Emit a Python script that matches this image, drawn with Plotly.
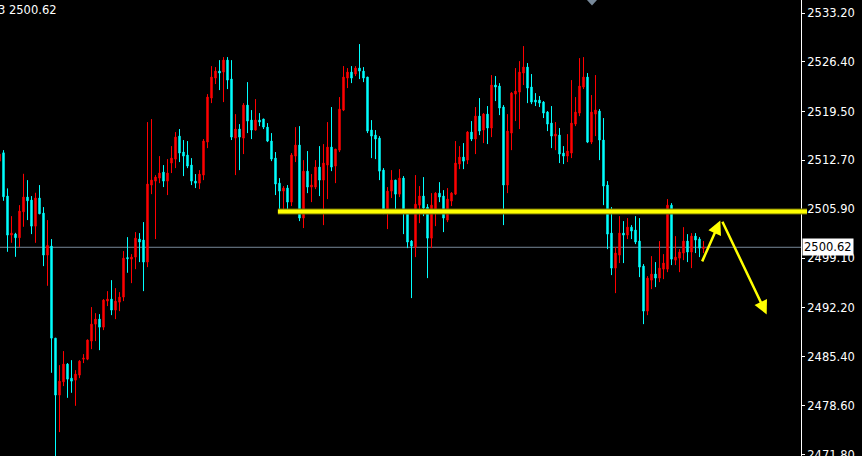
import plotly.graph_objects as go

# candle index (x) and OHLC prices
idx = list(range(-1, 176))

opens = [2512.60, 2513.76, 2507.74, 2502.31, 2502.45, 2501.94, 2505.55, 2507.60, 2507.18, 2503.56,
         2507.46, 2505.37, 2499.53, 2500.78, 2487.98, 2480.06, 2481.90, 2484.37, 2482.42, 2482.14,
         2482.84, 2485.06, 2485.06, 2487.57, 2489.93, 2490.63, 2489.51, 2493.13, 2493.41, 2491.88,
         2492.99, 2493.69, 2499.18, 2498.97, 2499.25, 2501.76, 2501.62, 2498.56, 2509.27, 2509.82,
         2510.24, 2511.07, 2509.82, 2512.33, 2512.88, 2516.08, 2513.86, 2513.44, 2512.05, 2509.82,
         2509.54, 2510.66, 2515.25, 2521.37, 2524.15, 2525.12, 2524.98, 2526.65, 2524.01, 2515.80,
         2517.06, 2515.80, 2520.39, 2518.31, 2516.92, 2518.31, 2518.45, 2517.33, 2515.39, 2513.02,
         2509.54, 2508.43, 2508.85, 2506.90, 2513.30, 2514.83, 2504.68, 2511.21, 2508.99, 2508.99,
         2511.77, 2509.96, 2512.05, 2514.55, 2511.91, 2514.13, 2519.70, 2524.15, 2524.98, 2524.71,
         2525.54, 2525.12, 2524.29, 2516.92, 2516.22, 2515.80, 2511.35, 2505.79, 2508.43, 2509.96,
         2508.01, 2510.24, 2505.51, 2501.48, 2500.64, 2506.48, 2507.74, 2506.21, 2501.89, 2505.51,
         2508.15, 2507.74, 2504.40, 2507.04, 2508.01, 2512.19, 2513.16, 2512.74, 2516.64, 2515.67,
         2518.86, 2516.92, 2519.14, 2517.20, 2523.18, 2523.04, 2520.12, 2509.27, 2516.50, 2521.92,
         2522.20, 2524.85, 2525.68, 2522.90, 2521.09, 2521.09, 2520.81, 2519.42, 2517.89, 2516.08,
         2516.22, 2513.72, 2513.30, 2513.72, 2517.75, 2519.28, 2522.90, 2524.29, 2515.25, 2519.14,
         2519.56, 2515.53, 2509.27, 2502.59, 2497.72, 2499.53, 2502.59, 2502.31, 2503.42, 2503.01,
         2501.48, 2498.00, 2491.74, 2496.05, 2496.89, 2496.33, 2497.58, 2497.58, 2506.48, 2498.83,
         2499.11, 2499.81, 2501.48, 2499.95, 2502.17, 2501.76, 2500.45]

highs = [2513.86, 2514.13, 2508.81, 2504.95, 2502.63, 2506.48, 2510.84, 2509.96, 2507.74, 2508.20,
         2509.27, 2506.21, 2504.40, 2501.76, 2488.00, 2484.23, 2486.18, 2484.51, 2484.92, 2483.53,
         2484.92, 2485.76, 2487.80, 2492.30, 2491.46, 2491.32, 2493.41, 2494.52, 2496.05, 2494.94,
         2494.38, 2500.09, 2502.03, 2499.67, 2502.73, 2502.59, 2504.12, 2518.03, 2518.45, 2510.66,
         2513.30, 2512.05, 2512.88, 2514.69, 2516.64, 2517.06, 2515.53, 2515.39, 2513.02, 2510.80,
         2511.35, 2515.67, 2521.92, 2525.82, 2525.68, 2526.65, 2527.07, 2527.07, 2526.65, 2519.14,
         2517.75, 2520.67, 2523.59, 2519.70, 2521.23, 2519.28, 2518.50, 2517.89, 2516.50, 2513.86,
         2510.24, 2509.13, 2509.27, 2513.72, 2517.33, 2517.47, 2512.74, 2514.00, 2510.80, 2512.74,
         2514.69, 2514.97, 2518.03, 2520.12, 2514.30, 2521.51, 2525.82, 2525.54, 2525.82, 2525.82,
         2528.88, 2525.68, 2524.32, 2518.31, 2516.92, 2516.08, 2511.63, 2508.99, 2511.35, 2510.00,
         2511.49, 2510.52, 2505.79, 2501.62, 2510.66, 2509.13, 2510.38, 2506.62, 2508.15, 2508.29,
         2509.68, 2508.57, 2508.85, 2508.29, 2515.39, 2514.69, 2515.11, 2516.78, 2518.17, 2520.12,
         2521.37, 2519.28, 2520.26, 2524.57, 2524.43, 2523.45, 2520.39, 2519.14, 2522.20, 2525.54,
         2526.51, 2528.60, 2526.24, 2524.71, 2522.06, 2521.65, 2520.95, 2519.56, 2520.26, 2518.03,
         2517.20, 2514.69, 2516.36, 2523.87, 2521.51, 2526.93, 2527.07, 2524.85, 2521.79, 2524.57,
         2519.84, 2518.59, 2509.82, 2506.21, 2500.64, 2504.95, 2504.26, 2504.68, 2503.70, 2504.95,
         2504.68, 2498.28, 2496.61, 2499.39, 2498.56, 2501.48, 2499.67, 2507.32, 2506.76, 2502.17,
         2500.36, 2503.42, 2502.45, 2502.59, 2502.59, 2502.03, 2501.48]

lows = [2512.33, 2507.08, 2499.99, 2501.24, 2499.29, 2500.64, 2503.47, 2504.40, 2502.45, 2501.24,
        2505.23, 2498.00, 2495.26, 2483.16, 2471.29, 2474.91, 2481.31, 2479.68, 2480.38, 2478.57,
        2482.42, 2484.51, 2484.92, 2486.45, 2487.57, 2486.31, 2489.10, 2492.44, 2491.18, 2490.63,
        2491.74, 2493.13, 2497.07, 2495.63, 2497.58, 2498.56, 2494.52, 2497.86, 2508.01, 2501.76,
        2509.54, 2508.99, 2507.88, 2510.94, 2511.63, 2512.47, 2510.52, 2511.63, 2509.27, 2508.85,
        2508.71, 2509.96, 2514.41, 2520.67, 2523.32, 2522.48, 2520.81, 2522.62, 2515.53, 2510.66,
        2511.35, 2513.58, 2516.50, 2515.67, 2516.85, 2517.47, 2517.06, 2515.25, 2512.60, 2507.88,
        2505.65, 2505.79, 2505.93, 2506.35, 2512.47, 2504.26, 2503.29, 2508.15, 2506.90, 2508.71,
        2507.74, 2503.70, 2507.32, 2511.21, 2509.54, 2513.86, 2519.56, 2522.76, 2523.45, 2524.43,
        2524.01, 2523.59, 2516.50, 2513.02, 2512.88, 2509.96, 2505.23, 2503.15, 2507.46, 2505.79,
        2507.60, 2502.45, 2500.50, 2493.55, 2499.25, 2503.98, 2504.95, 2496.33, 2500.50, 2503.56,
        2506.90, 2502.73, 2504.12, 2506.35, 2507.88, 2511.49, 2511.49, 2512.19, 2515.39, 2513.58,
        2516.22, 2515.11, 2514.97, 2515.94, 2520.95, 2519.00, 2503.70, 2508.15, 2514.13, 2518.17,
        2517.06, 2523.18, 2520.67, 2520.53, 2520.26, 2520.12, 2518.59, 2516.78, 2514.41, 2514.13,
        2512.33, 2512.19, 2512.47, 2513.02, 2517.47, 2518.86, 2522.62, 2515.11, 2514.97, 2516.08,
        2512.74, 2506.48, 2500.36, 2496.75, 2494.24, 2498.42, 2498.42, 2501.76, 2501.76, 2501.06,
        2496.47, 2489.93, 2491.18, 2494.80, 2495.08, 2495.77, 2496.19, 2497.16, 2498.14, 2498.14,
        2497.16, 2498.83, 2498.56, 2497.72, 2499.81, 2499.25, 2499.81]

closes = [2513.58, 2507.64, 2502.31, 2502.59, 2501.94, 2505.65, 2507.60, 2507.08, 2503.56, 2507.46,
          2505.27, 2499.53, 2500.88, 2487.98, 2480.06, 2482.00, 2484.37, 2482.28, 2482.00, 2482.98,
          2484.78, 2485.20, 2487.71, 2489.93, 2490.63, 2489.51, 2493.27, 2493.41, 2491.88, 2493.13,
          2493.69, 2499.11, 2499.04, 2499.25, 2501.89, 2501.34, 2498.56, 2509.41, 2509.96, 2510.38,
          2510.94, 2509.82, 2510.94, 2513.02, 2515.94, 2513.72, 2513.30, 2511.91, 2509.82, 2509.54,
          2510.80, 2515.39, 2521.51, 2524.29, 2525.12, 2524.85, 2526.65, 2523.87, 2515.94, 2517.06,
          2515.94, 2520.39, 2518.17, 2516.92, 2518.31, 2518.03, 2517.33, 2515.39, 2512.88, 2509.41,
          2508.43, 2508.85, 2506.90, 2513.44, 2514.83, 2504.68, 2511.21, 2508.99, 2509.27, 2511.77,
          2509.96, 2512.33, 2514.55, 2511.77, 2514.27, 2519.84, 2524.29, 2524.98, 2524.15, 2525.54,
          2525.12, 2524.15, 2516.78, 2516.08, 2515.67, 2511.21, 2505.79, 2508.43, 2509.96, 2508.01,
          2510.24, 2505.65, 2501.34, 2500.78, 2506.62, 2507.74, 2506.07, 2501.89, 2506.48, 2508.15,
          2507.60, 2504.68, 2507.32, 2508.15, 2512.33, 2513.16, 2512.60, 2516.64, 2515.67, 2518.86,
          2516.78, 2519.14, 2517.20, 2523.18, 2522.90, 2519.98, 2509.27, 2516.78, 2522.06, 2522.34,
          2524.98, 2525.68, 2522.76, 2520.81, 2520.81, 2520.67, 2519.28, 2517.75, 2516.08, 2516.36,
          2513.58, 2513.30, 2514.00, 2517.89, 2519.42, 2523.04, 2524.29, 2515.25, 2519.42, 2519.70,
          2515.53, 2509.13, 2502.45, 2497.72, 2499.81, 2502.59, 2502.31, 2503.42, 2502.87, 2501.34,
          2497.86, 2491.74, 2496.33, 2496.89, 2496.33, 2497.72, 2498.42, 2506.48, 2498.97, 2499.25,
          2499.95, 2501.48, 2499.95, 2502.17, 2501.62, 2500.50, 2500.62]

tick_vals = [2533.20, 2526.40, 2519.50, 2512.70, 2505.90, 2499.10, 2492.20, 2485.40, 2478.60, 2471.80]
tick_text = ["%.2f" % v for v in tick_vals]

last_price = 2500.62
header_text = "3 2500.62"
level_price = 2505.6          # yellow horizontal level
level_start = 68.6            # candle index where the level starts
arrow_up = dict(tail=(174.5, 2498.45), head=(179.2, 2504.33))
arrow_down = dict(tail=(179.55, 2504.37), head=(190.8, 2491.28))

X_RANGE = [-0.875, 199.375]
Y_RANGE = [2471.59, 2535.01]

fig = go.Figure()
fig.add_trace(go.Candlestick(
    x=idx, open=opens, high=highs, low=lows, close=closes,
    increasing=dict(line=dict(color="#ff0000", width=1), fillcolor="#ff0000"),
    decreasing=dict(line=dict(color="#00ffff", width=1), fillcolor="#00ffff"),
    whiskerwidth=0, hoverinfo="skip", showlegend=False,
))

span = X_RANGE[1] - X_RANGE[0]
x0_paper = (level_start - X_RANGE[0]) / span

shapes = [
    # current price line
    dict(type="line", xref="paper", yref="y", x0=0, x1=1, y0=last_price, y1=last_price,
         line=dict(color="#778899", width=1), layer="below"),
    # yellow level (dark edge + yellow core)
    dict(type="line", xref="paper", yref="y", x0=x0_paper, x1=1.0075, y0=level_price, y1=level_price,
         line=dict(color="#6e6e00", width=6)),
    dict(type="line", xref="paper", yref="y", x0=x0_paper, x1=1.0075, y0=level_price, y1=level_price,
         line=dict(color="#ffff00", width=4)),
    # chart shift marker at top
    dict(type="path", xref="paper", yref="paper",
         path="M 0.7328 1 L 0.7453 1 L 0.7391 0.988 Z",
         fillcolor="#778899", line=dict(width=0)),
]

annotations = [
    dict(xref="paper", yref="paper", x=0, y=1, xanchor="left", yanchor="top",
         xshift=-4, yshift=-1, text=header_text, showarrow=False,
         font=dict(family="DejaVu Sans", size=11.5, color="#ffffff")),
    dict(xref="paper", yref="y", x=1, y=last_price, xanchor="left", yanchor="middle",
         xshift=1, text="%.2f" % last_price, showarrow=False,
         bgcolor="#ffffff", borderpad=1,
         font=dict(family="DejaVu Sans", size=11.5, color="#000000")),
]
for a in (arrow_up, arrow_down):
    annotations.append(dict(
        x=a["head"][0], y=a["head"][1], ax=a["tail"][0], ay=a["tail"][1],
        xref="x", yref="y", axref="x", ayref="y", text="", showarrow=True,
        arrowhead=2, arrowsize=1.1, arrowwidth=2.5, arrowcolor="#ffff00", standoff=0,
    ))

fig.update_layout(
    width=862, height=456,
    margin=dict(l=0, r=61, t=0, b=0, autoexpand=False),
    paper_bgcolor="#000000", plot_bgcolor="#000000",
    boxgap=0.5,
    showlegend=False,
    shapes=shapes, annotations=annotations,
    xaxis=dict(range=X_RANGE, visible=False, rangeslider=dict(visible=False), fixedrange=True),
    yaxis=dict(range=Y_RANGE, side="right", showgrid=False, zeroline=False, automargin=False,
               showline=True, linecolor="#ffffff", linewidth=1,
               ticks="outside", ticklen=3, tickcolor="#ffffff",
               tickvals=tick_vals, ticktext=tick_text, ticklabeloverflow="allow",
               tickfont=dict(family="DejaVu Sans", size=11.5, color="#ffffff"),
               fixedrange=True),
)

fig.write_html("out.html", config={"displayModeBar": False},
               post_script="document.body.style.margin='0';document.body.style.overflow='hidden';")
